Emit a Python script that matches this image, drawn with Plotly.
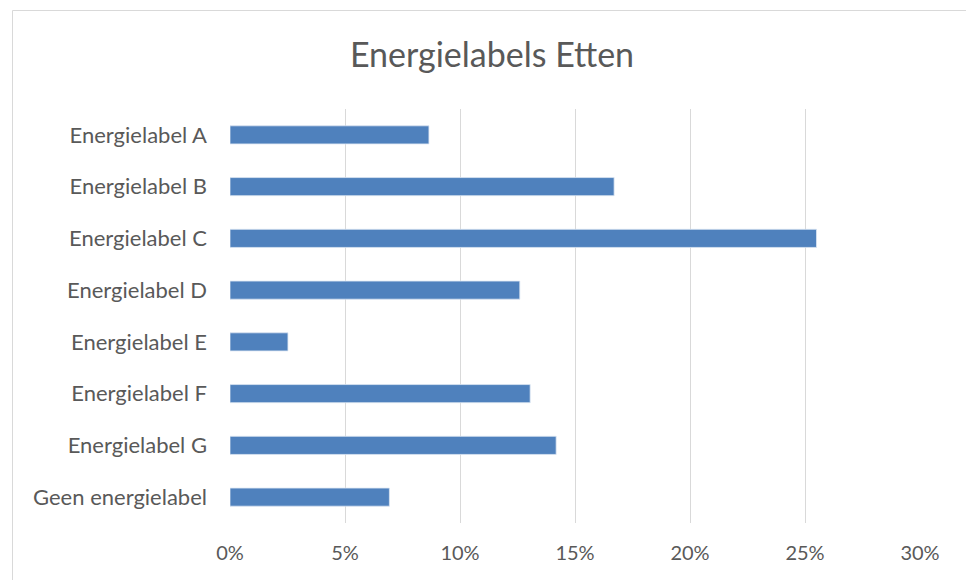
import plotly.graph_objects as go

categories = ["Energielabel A", "Energielabel B", "Energielabel C", "Energielabel D",
              "Energielabel E", "Energielabel F", "Energielabel G", "Geen energielabel"]
values = [0.0865, 0.167, 0.255, 0.126, 0.0252, 0.1305, 0.1418, 0.0693]
tick_vals = [0, 0.05, 0.10, 0.15, 0.20, 0.25, 0.30]
tick_text = ["0%", "5%", "10%", "15%", "20%", "25%", "30%"]

W, H = 966, 580
ml, mr, mt, mb = 230, 46, 109, 57

fig = go.Figure(go.Bar(
    x=values, y=categories, orientation="h",
    marker=dict(color="#4F81BD", line=dict(color="#DCE6F2", width=0.8)),
    width=0.35, hoverinfo="x+y"
))

pw, ph = W - ml - mr, H - mt - mb
def px2paper_x(px): return (px - ml) / pw
def px2paper_y(py): return (H - mb - py) / ph

fig.add_shape(type="rect", xref="paper", yref="paper",
              x0=px2paper_x(12.5), x1=px2paper_x(970), y0=px2paper_y(590), y1=px2paper_y(10.5),
              line=dict(color="#D9D9D9", width=1), fillcolor="rgba(0,0,0,0)", layer="below")

fig.update_layout(
    width=W, height=H,
    margin=dict(l=ml, r=mr, t=mt, b=mb),
    paper_bgcolor="white", plot_bgcolor="white",
    font=dict(family="Lato, Open Sans, sans-serif", color="#595959", size=20),
    title=dict(text="Energielabels Etten", x=(492) / W, xanchor="center",
               y=1 - 55 / H, yanchor="middle",
               font=dict(size=34, color="#595959")),
    showlegend=False,
)
fig.update_xaxes(range=[0, 0.30], tickvals=tick_vals, ticktext=tick_text,
                 showgrid=True, gridcolor="#D9D9D9", gridwidth=1.3,
                 zeroline=False, showline=False, ticks="",
                 tickfont=dict(size=20, color="#595959"), ticklabelstandoff=16)
fig.update_yaxes(autorange="reversed", showgrid=False, zeroline=False, showline=False,
                 ticks="", tickfont=dict(size=22, color="#595959"), ticklabelstandoff=22)

fig.write_html("out.html")
